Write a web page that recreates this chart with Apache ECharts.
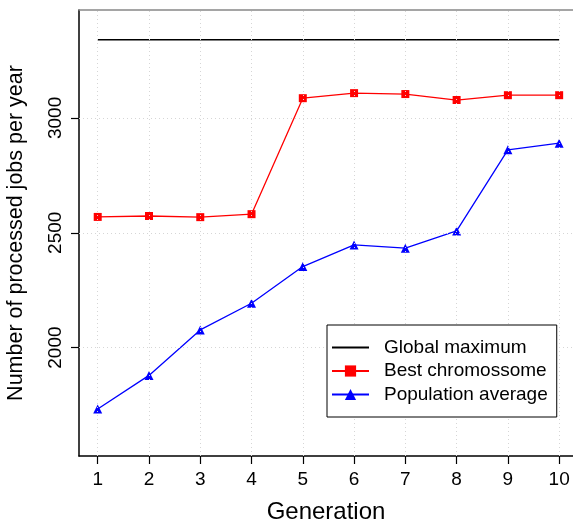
<!DOCTYPE html>
<html lang="en" style="height: 100%">
<head>
    <meta charset="UTF-8">
    <title>Generation chart</title>
    <script src="https://cdn.jsdelivr.net/npm/echarts@6/dist/echarts.min.js"></script>
</head>
<body style="height: 100%; margin: 0">
<div id="main" style="width: 573px; height: 525px"></div>
<script>
    var generations = [1, 2, 3, 4, 5, 6, 7, 8, 9, 10];
    var globalMax = [3340, 3340, 3340, 3340, 3340, 3340, 3340, 3340, 3340, 3340];
    var bestChromo = [2569, 2573, 2568, 2581, 3086, 3108, 3104, 3078, 3099, 3099];
    var popAverage = [1733, 1879, 2077, 2193, 2353, 2447, 2433, 2508, 2861, 2890];
    var yTicks = [2000, 2500, 3000];

    function pairs(vals) {
        return generations.map(function (g, i) { return [g, vals[i]]; });
    }

    var font = 'Liberation Sans, Arial, sans-serif';

    var myoption = {
        animation: false,
        grid: {left: 79, top: 10, right: 0, bottom: 69, outerBoundsMode: 'none', containLabel: false},
        legend: {
            orient: 'vertical',
            left: 327, top: 325,
            padding: [13, 9, 13, 4],
            itemGap: 4.5,
            itemWidth: 37, itemHeight: 14,
            borderColor: '#000', borderWidth: 1,
            backgroundColor: '#fff',
            z: 10,
            textStyle: {fontFamily: font, fontSize: 19, color: '#000', padding: [0, 0, 0, 10]},
            data: [
                {name: 'Global maximum', itemStyle: {opacity: 0}},
                {name: 'Best chromossome'},
                {name: 'Population average'}
            ]
        },
        xAxis: [{
            type: 'value',
            min: 0.635, max: 10.27,
            name: 'Generation',
            nameLocation: 'middle',
            nameGap: 44,
            nameTextStyle: {fontFamily: font, fontSize: 24, color: '#000'},
            axisLine: {show: true, onZero: false, lineStyle: {color: '#000', width: 1.5}},
            axisTick: {show: true, length: 8, customValues: generations, lineStyle: {color: '#000', width: 1.2}},
            axisLabel: {customValues: generations, fontFamily: font, fontSize: 19, color: '#000', margin: 14,
                formatter: function (v) { return String(v); }},
            splitLine: {show: false}
        }, {
            type: 'value',
            position: 'top',
            min: 0.635, max: 10.27,
            axisLine: {show: true, lineStyle: {color: '#888', width: 1.5}},
            axisTick: {show: false},
            axisLabel: {show: false},
            splitLine: {show: false}
        }],
        yAxis: {
            type: 'value',
            min: 1528, max: 3470,
            name: 'Number of processed jobs per year',
            nameLocation: 'middle',
            nameGap: 52,
            nameTextStyle: {fontFamily: font, fontSize: 21.5, color: '#000'},
            axisLine: {show: true, onZero: false, lineStyle: {color: '#000', width: 1.5}},
            axisTick: {show: true, length: 8, customValues: yTicks, lineStyle: {color: '#000', width: 1.2}},
            axisLabel: {customValues: yTicks, rotate: 90, fontFamily: font, fontSize: 19, color: '#000', margin: 14,
                formatter: function (v) { return String(v); }},
            splitLine: {show: false}
        },
        series: [
            // dotted grid drawn as markLines so only the integer generations get a line
            {
                name: 'grid', type: 'line', data: [], silent: true,
                markLine: {
                    silent: true, symbol: 'none', label: {show: false},
                    lineStyle: {color: '#d6d6d6', type: [1, 3], width: 1},
                    data: generations.map(function (g) { return {xAxis: g}; })
                        .concat(yTicks.map(function (v) { return {yAxis: v}; }))
                }
            },
            {
                name: 'Global maximum', type: 'line', data: pairs(globalMax),
                symbol: 'none', lineStyle: {color: '#000', width: 1.5}, itemStyle: {color: '#000'}
            },
            {
                name: 'Best chromossome', type: 'line', data: pairs(bestChromo),
                symbol: 'rect', symbolSize: 8,
                lineStyle: {color: '#ff0000', width: 1.3}, itemStyle: {color: '#ff0000'}
            },
            {
                name: 'Population average', type: 'line', data: pairs(popAverage),
                symbol: 'triangle', symbolSize: 9,
                lineStyle: {color: '#0000ff', width: 1.3}, itemStyle: {color: '#0000ff'}
            }
        ]
    };
    var myChart = echarts.init(document.getElementById('main'));
    myChart.setOption(myoption);
</script>
</body>
</html>
